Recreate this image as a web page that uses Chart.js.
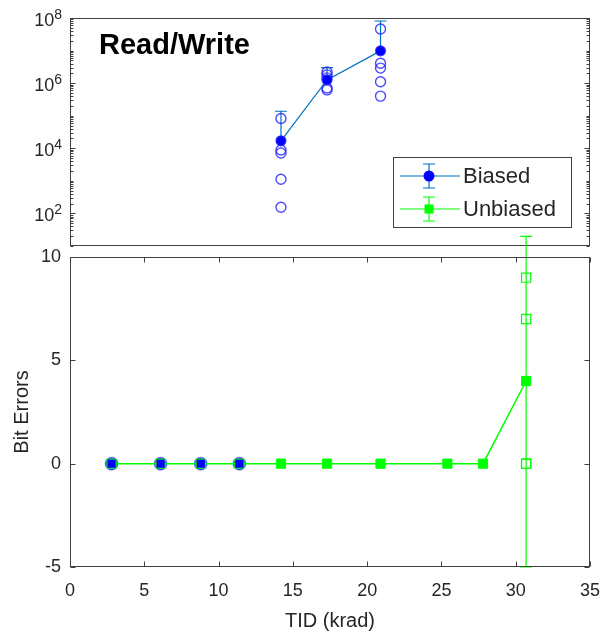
<!DOCTYPE html>
<html lang="en">
<head>
<meta charset="UTF-8">
<title>Read/Write bit errors vs TID</title>
<style>
    body { margin: 0; padding: 0; background: #fff; }
    #wrap { position: relative; width: 604px; height: 633px; }
    #wrap canvas { position: absolute; left: 0; top: 0; }
</style>
<script src="https://cdn.jsdelivr.net/npm/chart.js"></script>
</head>
<body>
<div id="wrap">
    <canvas id="logChart" width="604" height="633"></canvas>
    <canvas id="linChart" width="604" height="633"></canvas>
</div>
<script>
// dose steps (krad) and results
const tidBiasedLow = [2.8, 6.1, 8.8, 11.4];
const biasedLowMean = [0, 0, 0, 0];

const tidBiasedHigh = [14.2, 17.3, 20.9];
const biasedHighMean = [1.7e4, 1.26e6, 9.8e6];
const biasedHighErr = [1.2e5, 1.75e6, 7.1e7];
// individual boards at each high dose step
const biasedRuns = [
    [8.2e4, 8.9e3, 7.2e3, 1.12e3, 155],
    [2.2e6, 1.8e6, 1.45e6, 7.1e5, 6.2e5],
    [4.6e7, 4.1e6, 2.9e6, 1.1e6, 4.0e5]
];

const tidUnbiased = [2.8, 6.1, 8.8, 11.4, 14.2, 17.3, 20.9, 25.4, 27.8, 30.7];
const unbiasedMean = [0, 0, 0, 0, 0, 0, 0, 0, 0, 4];
const unbiasedErrUp = [0, 0, 0, 0, 0, 0, 0, 0, 0, 7];
const unbiasedErrDown = [0, 0, 0, 0, 0, 0, 0, 0, 0, 9];
const tidUnbiasedRuns = 30.7;
const unbiasedRuns = [9, 7, 0, 0];

const logTickExps = [2, 4, 6, 8];

const FONT = '"Liberation Sans", Arial, Helvetica, sans-serif';
const TXT = '#262626';
const FRAME = '#404040';
const BLUE = '#0000ff';
const LINEBLUE = '#0072bd';
const GREEN = '#00ff00';

Chart.defaults.font.family = FONT;
Chart.defaults.color = TXT;

// box around the plot area with inward tick marks
function drawFrame(chart, xTicks, yMajor, yMinor) {
    const {ctx, chartArea: a, scales} = chart;
    const l = a.left + 0.5, r = a.right - 0.5, t = a.top + 0.5, b = a.bottom - 0.5;
    ctx.save();
    ctx.strokeStyle = FRAME;
    ctx.lineWidth = 1;
    ctx.strokeRect(l, t, r - l, b - t);
    ctx.beginPath();
    xTicks.forEach(v => {
        const x = Math.round(scales.x.getPixelForValue(v)) + 0.5;
        ctx.moveTo(x, b); ctx.lineTo(x, b - 5);
        ctx.moveTo(x, t); ctx.lineTo(x, t + 5);
    });
    yMajor.forEach(v => {
        const y = Math.round(scales.y.getPixelForValue(v)) + 0.5;
        ctx.moveTo(l, y); ctx.lineTo(l + 5, y);
        ctx.moveTo(r, y); ctx.lineTo(r - 5, y);
    });
    yMinor.forEach(v => {
        const y = Math.round(scales.y.getPixelForValue(v)) + 0.5;
        ctx.moveTo(l, y); ctx.lineTo(l + 3, y);
        ctx.moveTo(r, y); ctx.lineTo(r - 3, y);
    });
    ctx.stroke();
    ctx.restore();
}

function drawErrorBars(chart, xs, ys, up, down, color) {
    const {ctx, scales} = chart;
    ctx.save();
    ctx.strokeStyle = color;
    ctx.lineWidth = 1.2;
    ctx.beginPath();
    xs.forEach((xv, i) => {
        if (!up[i] && !down[i]) return;
        const x = scales.x.getPixelForValue(xv);
        const y = scales.y.getPixelForValue(ys[i]);
        const yTop = scales.y.getPixelForValue(ys[i] + up[i]);
        const lowVal = ys[i] - down[i];
        let yBot;
        if (scales.y.type === 'logarithmic') {
            yBot = lowVal > 0 ? scales.y.getPixelForValue(lowVal) : y;
        } else {
            yBot = scales.y.getPixelForValue(lowVal);
        }
        ctx.moveTo(x, yTop); ctx.lineTo(x, yBot);
        ctx.moveTo(x - 6, yTop); ctx.lineTo(x + 6, yTop);
        if (yBot !== y) { ctx.moveTo(x - 6, yBot); ctx.lineTo(x + 6, yBot); }
    });
    ctx.stroke();
    ctx.restore();
}

// ---- upper panel: log scale ----
const logMinor = [];
for (let e = 1; e <= 7; e++) {
    for (let m = 1; m <= 9; m++) {
        const v = m * Math.pow(10, e);
        if (!(m === 1 && logTickExps.includes(e))) logMinor.push(v);
    }
}

const logPanel = {
    id: 'logPanel',
    beforeDatasetsDraw(chart) {
        drawErrorBars(chart, tidBiasedHigh, biasedHighMean, biasedHighErr,
            biasedHighErr, LINEBLUE);
    },
    afterDraw(chart) {
        const {ctx, chartArea: a, scales} = chart;
        drawFrame(chart, [], logTickExps.map(e => Math.pow(10, e)), logMinor);
        ctx.save();
        ctx.fillStyle = TXT;
        ctx.textBaseline = 'alphabetic';
        logTickExps.forEach(e => {
            const y = scales.y.getPixelForValue(Math.pow(10, e));
            ctx.textAlign = 'right';
            ctx.font = '14px ' + FONT;
            const ew = ctx.measureText(String(e)).width;
            ctx.fillText(String(e), a.left - 8, y + 1);
            ctx.font = '18px ' + FONT;
            ctx.fillText('10', a.left - 8 - ew, y + 8);
        });
        // panel title
        ctx.font = 'bold 29px ' + FONT;
        ctx.fillStyle = '#000';
        ctx.textAlign = 'left';
        ctx.fillText('Read/Write', 99, 54);

        // legend
        const lx = 393.5, ly = 157.5, lw = 178, lh = 70;
        ctx.fillStyle = '#fff';
        ctx.fillRect(lx, ly, lw, lh);
        ctx.strokeStyle = FRAME;
        ctx.lineWidth = 1;
        ctx.strokeRect(lx, ly, lw, lh);
        const rows = [
            {label: 'Biased', y: 176, line: LINEBLUE, face: BLUE, style: 'circle'},
            {label: 'Unbiased', y: 209, line: GREEN, face: GREEN, style: 'rect'}
        ];
        rows.forEach(rw => {
            ctx.strokeStyle = rw.line;
            ctx.lineWidth = 1.2;
            ctx.beginPath();
            ctx.moveTo(400, rw.y); ctx.lineTo(460, rw.y);
            ctx.moveTo(429, rw.y - 12); ctx.lineTo(429, rw.y + 12);
            ctx.moveTo(423, rw.y - 12); ctx.lineTo(435, rw.y - 12);
            ctx.moveTo(423, rw.y + 12); ctx.lineTo(435, rw.y + 12);
            ctx.stroke();
            ctx.fillStyle = rw.face;
            if (rw.style === 'circle') {
                ctx.beginPath();
                ctx.arc(429, rw.y, 5.5, 0, Math.PI * 2);
                ctx.fill();
            } else {
                ctx.fillRect(424.5, rw.y - 4.5, 9, 9);
            }
            ctx.fillStyle = TXT;
            ctx.font = '22px ' + FONT;
            ctx.textAlign = 'left';
            ctx.textBaseline = 'middle';
            ctx.fillText(rw.label, 463, rw.y + 1);
        });
        ctx.restore();
    }
};

const runPoints = [];
tidBiasedHigh.forEach((x, i) => biasedRuns[i].forEach(v => runPoints.push({x: x, y: v})));

new Chart(document.getElementById('logChart'), {
    type: 'scatter',
    data: {
        datasets: [
            {
                label: 'Biased',
                data: tidBiasedHigh.map((x, i) => ({x: x, y: biasedHighMean[i]})),
                showLine: true,
                borderColor: LINEBLUE,
                borderWidth: 1.2,
                pointStyle: 'circle',
                pointRadius: 5,
                pointBackgroundColor: BLUE,
                pointBorderColor: 'rgba(40,40,255,0.8)',
                pointBorderWidth: 1.2
            },
            {
                label: 'Biased runs',
                data: runPoints,
                showLine: false,
                pointStyle: 'circle',
                pointRadius: 5,
                pointBackgroundColor: 'rgba(0,0,0,0)',
                pointBorderColor: 'rgba(30,30,255,0.8)',
                pointBorderWidth: 1.4
            }
        ]
    },
    options: {
        responsive: false,
        animation: false,
        devicePixelRatio: 1,
        layout: { padding: { left: 70, right: 14, top: 18, bottom: 387 } },
        plugins: { legend: { display: false }, tooltip: { enabled: false } },
        scales: {
            x: { type: 'linear', min: 0, max: 35, display: false },
            y: { type: 'logarithmic', min: 10, max: 1e8, display: false }
        }
    },
    plugins: [logPanel]
});

// ---- lower panel: linear scale ----
const linPanel = {
    id: 'linPanel',
    beforeDatasetsDraw(chart) {
        drawErrorBars(chart, tidUnbiased, unbiasedMean, unbiasedErrUp,
            unbiasedErrDown, GREEN);
    },
    afterDraw(chart) {
        drawFrame(chart, [0, 5, 10, 15, 20, 25, 30, 35], [-5, 0, 5, 10], []);
    }
};

new Chart(document.getElementById('linChart'), {
    type: 'scatter',
    data: {
        datasets: [
            {
                label: 'Unbiased runs',
                data: unbiasedRuns.map(v => ({x: tidUnbiasedRuns, y: v})),
                showLine: false,
                pointStyle: 'rect',
                pointRadius: 6.5,
                pointBackgroundColor: 'rgba(0,0,0,0)',
                pointBorderColor: GREEN,
                pointBorderWidth: 1.2
            },
            {
                label: 'Unbiased',
                data: tidUnbiased.map((x, i) => ({x: x, y: unbiasedMean[i]})),
                showLine: true,
                borderColor: GREEN,
                borderWidth: 1.5,
                pointStyle: 'rect',
                pointRadius: 6.5,
                // where a biased point sits underneath, its blue shows through
                pointBackgroundColor: c => tidBiasedLow.includes(tidUnbiased[c.dataIndex]) ? BLUE : GREEN,
                pointBorderColor: GREEN,
                pointBorderWidth: 1
            },
            {
                label: 'Biased',
                data: tidBiasedLow.map((x, i) => ({x: x, y: biasedLowMean[i]})),
                showLine: false,
                pointStyle: 'circle',
                pointRadius: 6.5,
                pointBackgroundColor: 'rgba(40,40,255,0.85)',
                pointBorderColor: 'rgba(80,80,255,0.6)',
                pointBorderWidth: 1
            }
        ]
    },
    options: {
        responsive: false,
        animation: false,
        devicePixelRatio: 1,
        layout: { padding: { left: 0, right: 14, top: 257, bottom: 0 } },
        plugins: { legend: { display: false }, tooltip: { enabled: false } },
        scales: {
            x: {
                type: 'linear', min: 0, max: 35,
                ticks: { stepSize: 5, padding: 13, font: { size: 18 }, color: TXT },
                grid: { display: false, drawTicks: false },
                border: { display: false },
                title: { display: true, text: 'TID (krad)', font: { size: 20 }, color: TXT,
                         padding: { top: 0, bottom: 0 } },
                afterFit(s) { s.height = 66; s.paddingLeft = 0; s.paddingRight = 0; }
            },
            y: {
                type: 'linear', min: -5, max: 10,
                ticks: { stepSize: 5, padding: 9, font: { size: 18 }, color: TXT },
                grid: { display: false, drawTicks: false },
                border: { display: false },
                title: { display: true, text: 'Bit Errors', font: { size: 20 }, color: TXT,
                         padding: { top: 10, bottom: 0 } },
                afterFit(s) { s.width = 70; s.paddingTop = 0; s.paddingBottom = 0; }
            }
        }
    },
    plugins: [linPanel]
});
</script>
</body>
</html>
